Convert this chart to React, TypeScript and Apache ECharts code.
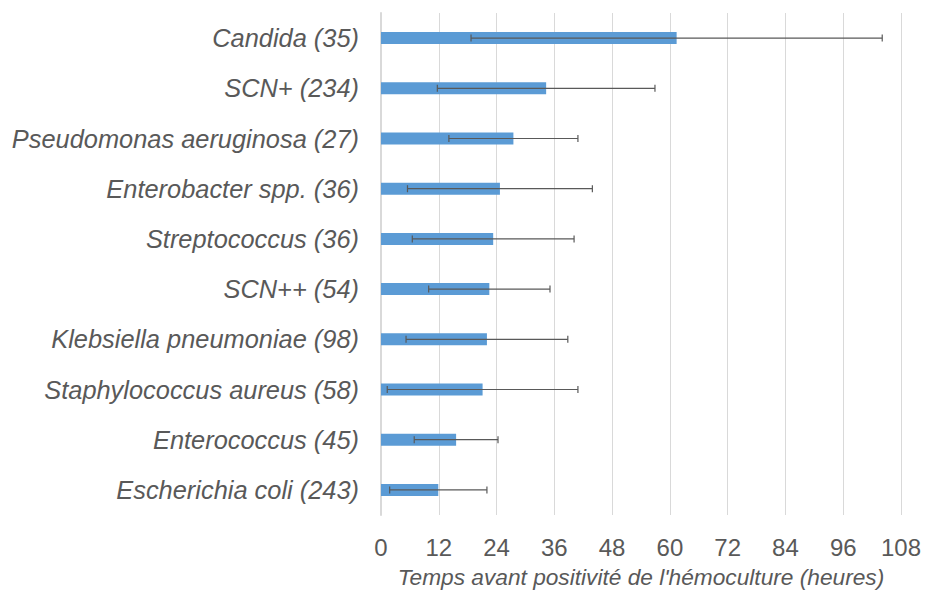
import React, { useEffect, useRef } from "react";
import * as echarts from "echarts";

const categories = [
  "Candida (35)",
  "SCN+ (234)",
  "Pseudomonas aeruginosa (27)",
  "Enterobacter spp. (36)",
  "Streptococcus (36)",
  "SCN++ (54)",
  "Klebsiella pneumoniae (98)",
  "Staphylococcus aureus (58)",
  "Enterococcus (45)",
  "Escherichia coli (243)",
];
const meanHours = [61.4, 34.3, 27.5, 24.7, 23.3, 22.5, 22.0, 21.1, 15.6, 11.9];
const sdHours = [42.7, 22.6, 13.4, 19.2, 16.8, 12.6, 16.8, 19.8, 8.7, 10.1];
const xTicks = { min: 0, max: 108, interval: 12 };
const axisTitle = "Temps avant positivité de l'hémoculture (heures)";

export default function App() {
  const ref = useRef<HTMLDivElement>(null);
  useEffect(() => {
    if (!ref.current) return;
    const chart = echarts.init(ref.current, null, { renderer: "svg" });
    const errData = meanHours.map((m, i) => [i, m - sdHours[i], m + sdHours[i]]);
    const font = "'Liberation Sans', Arial, sans-serif";
    chart.setOption({
      animation: false,
      backgroundColor: "#ffffff",
      grid: { left: 381, right: 24, top: 13, bottom: 74 },
      xAxis: {
        type: "value",
        min: xTicks.min,
        max: xTicks.max,
        interval: xTicks.interval,
        axisLine: { show: false },
        axisTick: { show: false },
        splitLine: { lineStyle: { color: "#d9d9d9", width: 1 } },
        axisLabel: { color: "#595959", fontSize: 24, fontFamily: font, margin: 20 },
        name: axisTitle,
        nameLocation: "middle",
        nameGap: 50,
        nameTextStyle: { color: "#595959", fontSize: 22.7, fontStyle: "italic", fontFamily: font },
      },
      yAxis: {
        type: "category",
        data: categories,
        inverse: true,
        axisLine: { show: true, lineStyle: { color: "#d9d9d9", width: 2 } },
        axisTick: { show: false },
        axisLabel: { color: "#595959", fontSize: 25.4, fontStyle: "italic", fontFamily: font, margin: 22 },
      },
      series: [
        {
          type: "bar",
          data: meanHours,
          barWidth: 12,
          itemStyle: { color: "#5b9bd5" },
        },
        {
          type: "custom",
          data: errData,
          encode: { x: [1, 2], y: 0 },
          z: 10,
          renderItem: (params: any, api: any) => {
            const idx = api.value(0);
            const lo = api.coord([api.value(1), idx]);
            const hi = api.coord([api.value(2), idx]);
            const h = 3.5;
            const style = { stroke: "#595959", lineWidth: 1.2 };
            return {
              type: "group",
              children: [
                { type: "line", shape: { x1: lo[0], y1: lo[1], x2: hi[0], y2: hi[1] }, style },
                { type: "line", shape: { x1: lo[0], y1: lo[1] - h, x2: lo[0], y2: lo[1] + h }, style },
                { type: "line", shape: { x1: hi[0], y1: hi[1] - h, x2: hi[0], y2: hi[1] + h }, style },
              ],
            };
          },
        },
      ],
    });
    return () => chart.dispose();
  }, []);
  return (
    <div
      ref={ref}
      style={{ position: "fixed", left: 0, top: 0, width: 925, height: 593 }}
    />
  );
}
